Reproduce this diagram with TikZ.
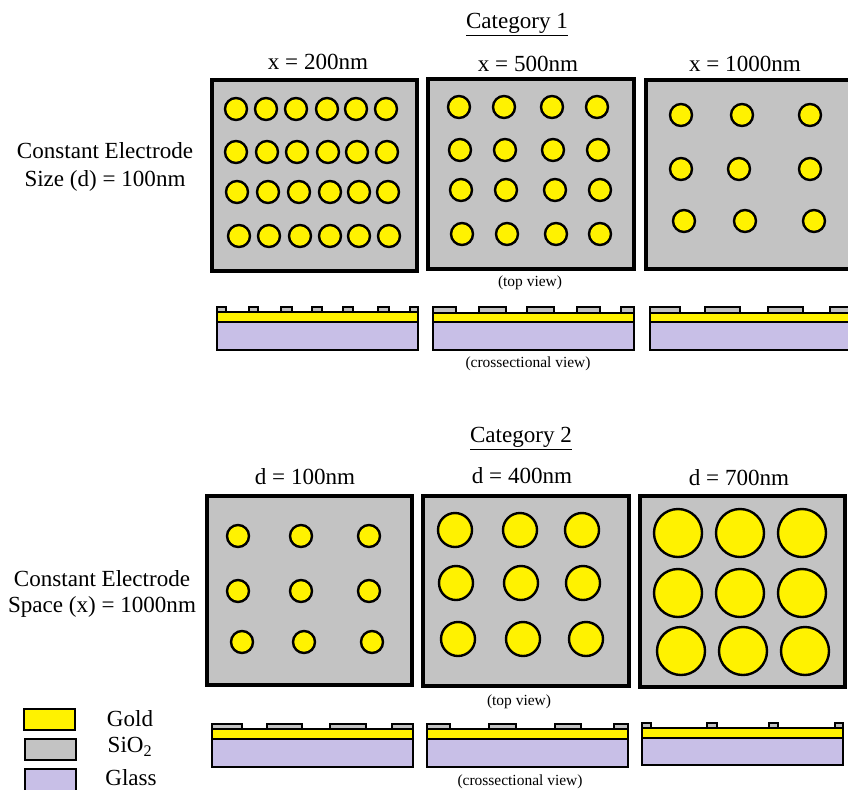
\documentclass[tikz,border=0pt]{standalone}
\usepackage{fontspec}
\setmainfont{Liberation Serif}
\definecolor{goldfill}{HTML}{FFF200}
\definecolor{oxidefill}{HTML}{C3C3C3}
\definecolor{glassfill}{HTML}{C8BFE7}
\begin{document}
\begin{tikzpicture}[
    x=0.75pt, y=-0.75pt,
    every node/.style={inner sep=0pt, align=center},
    bigtext/.style={font=\fontsize{17.3}{20}\selectfont},
    smalltext/.style={font=\fontsize{11.6}{14}\selectfont},
    panel/.style={fill=oxidefill, draw=black, line width=2.6pt},
    dot/.style={fill=goldfill, draw=black, line width=1.8pt},
    layer/.style={draw=black, line width=1.9pt},
]

\useasboundingbox (0,0) rectangle (848,789);
\clip (0,0) rectangle (848,789);

% === Top views ===
\draw[panel] (212,80) rectangle (417,271);
\draw[panel] (428,79) rectangle (634,269);
\draw[panel] (646,80) rectangle (860,269);
\draw[panel] (207,496) rectangle (412,685);
\draw[panel] (423,496) rectangle (629,686);
\draw[panel] (640,496) rectangle (845,687);

% Electrodes: radius / row y / column x
\foreach \rad/\yc/\xlist in {
    11/109/{236,266,296,327,356,386},
    11/152/{236,267,297,328,357,387},
    11/192/{237,268,299,330,359,388},
    11/236/{239,269,300,330,359,389},
    11/107/{459,504,552,597},
    11/150/{460,505,553,598},
    11/190/{461,506,555,600},
    11/234/{462,507,556,600},
    11/115/{681,742,810},
    11/169/{681,739,810},
    11/221/{684,745,814},
    11/536/{238,301,369},
    11/591/{238,301,369},
    11/642/{242,304,372},
    17/530/{455,520,582},
    17/583/{456,521,583},
    17/639/{458,523,586},
    24/533/{678,740,802},
    24/593/{678,740,802},
    24/651/{681,743,805}} {
    \foreach \xc in \xlist {
        \draw[dot] (\xc,\yc) circle (\rad);
    }
}

% === Crossections: left / right / oxide top / gold top / gold bottom / glass bottom / oxide tabs ===
\foreach \xl/\xr/\ya/\yb/\yc/\yd/\tabs in {
    217/418/307/312/322/350/{217/226,249/258,281/292,312/322,343/353,378/389,410/418},
    433/634/307/313/322/350/{433/456,479/506,527/554,577/600,621/634},
    650/860/307/313/322/350/{650/680,705/740,768/803,830/860},
    212/413/724/729/739/767/{212/242,267/302,330/366,392/413},
    427/628/724/729/739/767/{427/450,489/516,555/581,614/628},
    642/843/723/728/738/765/{642/651,707/717,769/778,835/843}} {
    \foreach \xa/\xb in \tabs {
        \draw[layer, fill=oxidefill] (\xa,\ya) rectangle (\xb,\yb);
    }
    \draw[layer, fill=goldfill] (\xl,\yb) rectangle (\xr,\yc);
    \draw[layer, fill=glassfill] (\xl,\yc) rectangle (\xr,\yd);
}

% === Legend ===
\draw[layer, fill=goldfill] (24,709) rectangle (75,730);
\draw[layer, fill=oxidefill] (25,739) rectangle (76,760);
\draw[layer, fill=glassfill] (25,769) rectangle (76,800);
\node[bigtext] (goldlabel) at (130,719) {Gold};
\node[bigtext] (oxidelabel) at (130,747) {SiO\textsubscript{2}};
\node[bigtext] (glasslabel) at (131,778) {Glass};

% === Labels, Category 1 ===
\node[bigtext] (catone) at (517,25) {\underline{Category 1}};
\node[bigtext] (xtwo) at (318,62) {x = 200nm};
\node[bigtext] (xfive) at (528,64) {x = 500nm};
\node[bigtext] (xten) at (745,64) {x = 1000nm};
\node[bigtext] (sizeone) at (105,167) {Constant Electrode\\[1pt]Size (d) = 100nm};
\node[smalltext] (topone) at (530,283) {(top view)};
\node[smalltext] (crossone) at (528,364) {(crossectional view)};

% === Labels, Category 2 ===
\node[bigtext] (cattwo) at (521,439) {\underline{Category 2}};
\node[bigtext] (done) at (305,477) {d = 100nm};
\node[bigtext] (dfour) at (522,476) {d = 400nm};
\node[bigtext] (dseven) at (739,478) {d = 700nm};
\node[bigtext] (spacetwo) at (102,594) {Constant Electrode\\Space (x) = 1000nm};
\node[smalltext] (toptwo) at (519,702) {(top view)};
\node[smalltext] (crosstwo) at (520,782) {(crossectional view)};

\end{tikzpicture}
\end{document}
